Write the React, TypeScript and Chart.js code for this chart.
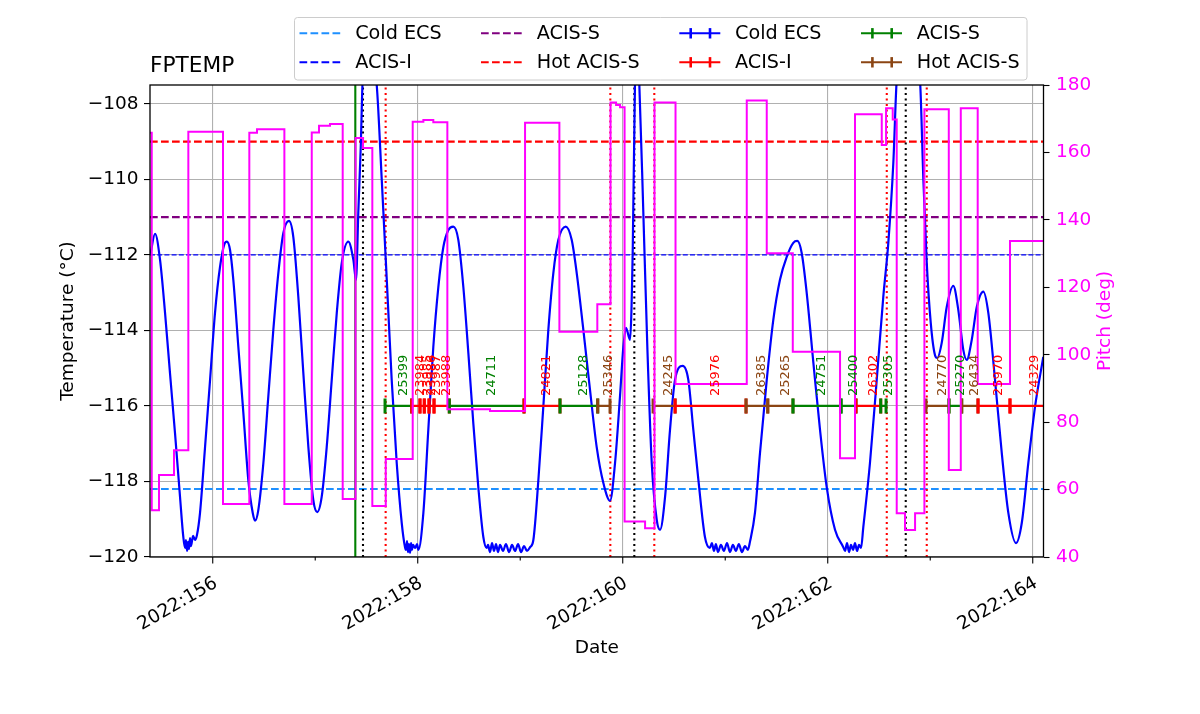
import React, { useEffect, useRef } from 'react';
import { Chart, registerables } from 'chart.js';

Chart.register(...registerables);

const FONT = '"DejaVu Sans", sans-serif';

// ---------------- data ----------------
const tempDays = [
  155.393, 155.437, 155.486, 155.535, 155.583, 155.632, 155.681, 155.713, 155.730, 155.739,
  155.749, 155.759, 155.768, 155.778, 155.788, 155.808, 155.827, 155.846, 155.876, 155.925,
  155.974, 156.022, 156.071, 156.120, 156.137, 156.169, 156.201, 156.250, 156.299, 156.347,
  156.390, 156.413, 156.445, 156.494, 156.542, 156.591, 156.640, 156.689, 156.744, 156.786,
  156.835, 156.884, 156.933, 156.981, 157.020, 157.063, 157.112, 157.161, 157.210, 157.259,
  157.323, 157.372, 157.398, 157.420, 157.444, 157.463, 157.535, 157.600, 157.649, 157.698,
  157.746, 157.795, 157.844, 157.876, 157.886, 157.896, 157.905, 157.915, 157.925, 157.935,
  157.944, 157.954, 157.974, 157.993, 158.006, 158.055, 158.103, 158.152, 158.201, 158.250,
  158.299, 158.347, 158.396, 158.445, 158.494, 158.542, 158.591, 158.640, 158.673, 158.686,
  158.705, 158.725, 158.744, 158.764, 158.783, 158.803, 158.832, 158.861, 158.891, 158.920,
  158.949, 158.979, 159.008, 159.037, 159.066, 159.096, 159.128, 159.177, 159.225, 159.274,
  159.323, 159.372, 159.444, 159.502, 159.551, 159.616, 159.681, 159.746, 159.811, 159.876,
  159.925, 159.973, 160.006, 160.032, 160.071, 160.098, 160.120, 160.139, 160.162, 160.201,
  160.240, 160.283, 160.332, 160.364, 160.413, 160.461, 160.510, 160.585, 160.640, 160.689,
  160.738, 160.802, 160.850, 160.870, 160.890, 160.909, 160.929, 160.958, 160.987, 161.017,
  161.046, 161.075, 161.104, 161.133, 161.163, 161.192, 161.221, 161.241, 161.290, 161.339,
  161.405, 161.469, 161.534, 161.600, 161.664, 161.703, 161.746, 161.795, 161.860, 161.925,
  161.990, 162.071, 162.152, 162.169, 162.188, 162.208, 162.227, 162.247, 162.266, 162.286,
  162.305, 162.325, 162.347, 162.412, 162.478, 162.542, 162.591, 162.640, 162.673, 162.783,
  162.900, 162.933, 162.966, 163.005, 163.046, 163.069, 163.112, 163.161, 163.225, 163.274,
  163.323, 163.356, 163.405, 163.454, 163.518, 163.567, 163.632, 163.698, 163.762, 163.837,
  163.893, 163.957, 164.022, 164.103,
];
const tempValues = [
  -111.97, -111.44, -112.13, -113.54, -115.13, -116.72, -118.41, -119.47, -119.76, -119.55,
  -119.84, -119.60, -119.79, -119.50, -119.71, -119.44, -119.55, -119.42, -118.83, -117.09,
  -115.31, -113.54, -112.32, -111.68, -111.65, -111.87, -112.66, -114.44, -116.19, -117.96,
  -118.83, -119.04, -118.75, -117.51, -115.76, -113.99, -112.48, -111.42, -111.10, -111.52,
  -113.11, -115.13, -117.09, -118.49, -118.81, -118.41, -117.09, -115.31, -113.54, -112.21,
  -111.65, -112.13, -112.66, -110.89, -109.14, -107.36, -106.30, -107.50, -110.01, -112.66,
  -115.31, -117.51, -119.10, -119.74, -119.81, -119.58, -119.87, -119.66, -119.89, -119.63,
  -119.81, -119.68, -119.76, -119.66, -119.81, -118.83, -116.64, -114.44, -112.85, -111.79,
  -111.34, -111.25, -111.60, -112.85, -114.60, -116.45, -118.15, -119.47, -119.76, -119.68,
  -119.87, -119.63, -119.84, -119.66, -119.87, -119.68, -119.84, -119.66, -119.87, -119.68,
  -119.84, -119.66, -119.87, -119.71, -119.84, -119.74, -119.55, -117.96, -116.03, -113.99,
  -112.48, -111.60, -111.25, -111.60, -112.48, -113.99, -115.58, -117.09, -118.04, -118.51,
  -117.51, -115.76, -114.44, -113.93, -114.25, -111.79, -107.36, -106.57, -107.50, -110.89,
  -114.44, -117.51, -119.02, -119.28, -118.41, -116.64, -115.31, -114.94, -115.31, -116.64,
  -117.96, -119.47, -119.76, -119.63, -119.84, -119.66, -119.87, -119.68, -119.84, -119.63,
  -119.87, -119.68, -119.84, -119.66, -119.87, -119.71, -119.81, -119.60, -118.83, -117.25,
  -115.31, -113.72, -112.66, -112.05, -111.68, -111.63, -111.95, -113.01, -114.86, -116.64,
  -118.15, -119.28, -119.74, -119.84, -119.63, -119.87, -119.68, -119.81, -119.63, -119.84,
  -119.68, -119.76, -119.21, -117.51, -115.31, -113.11, -111.68, -109.56, -107.36, -105.77,
  -107.36, -110.01, -112.21, -113.80, -114.65, -114.73, -114.33, -113.38, -112.82, -113.46,
  -114.52, -114.78, -114.25, -113.38, -112.97, -113.54, -115.31, -117.25, -118.83, -119.63,
  -119.10, -117.51, -116.03, -114.70,
];

// pitch (step series: each value holds until the next time)
const pitchDays = [
  155.388, 155.405, 155.476, 155.622, 155.762, 156.100, 156.357, 156.432, 156.699, 156.966,
  157.037, 157.144, 157.268, 157.393, 157.466, 157.557, 157.688, 157.951, 158.055, 158.152,
  158.289, 158.705, 159.047, 159.382, 159.752, 159.881, 159.935, 159.974, 160.018, 160.218,
  160.310, 160.515, 161.210, 161.405, 161.659, 162.120, 162.266, 162.527, 162.569, 162.634,
  162.673, 162.754, 162.852, 162.943, 163.181, 163.298, 163.463, 163.778, 164.110,
];
const pitchValues = [
  165.8, 53.9, 64.3, 71.7, 166.1, 55.7, 165.8, 166.9, 55.7, 165.9,
  167.9, 168.4, 57.2, 164.3, 161.3, 55.1, 69.1, 169.1, 169.6, 168.95,
  83.8, 83.3, 168.8, 106.8, 115.0, 174.8, 174.1, 173.4, 50.5, 48.5,
  174.8, 91.3, 175.4, 130.1, 100.9, 69.3, 171.3, 162.2, 173.1, 169.8,
  53.0, 48.0, 53.0, 172.8, 65.8, 173.1, 91.3, 133.7, 133.7,
];

// observations
const obsIds = [
  '25399', '23984', '23985', '23986', '23987', '23988', '24711', '24821', '25128', '25346',
  '24245', '25976', '26385', '25265', '24751', '25400', '26302', '25305', '24770', '25270',
  '26434', '25970', '24329',
];
const obsStart = [
  157.681, 157.941, 158.022, 158.064, 158.110, 158.159, 158.308, 159.037, 159.388, 159.756,
  160.296, 160.511, 161.203, 161.415, 161.661, 162.130, 162.276, 162.517, 162.959, 163.183,
  163.307, 163.466, 163.778,
];
const obsStop = [
  157.941, 158.022, 158.064, 158.110, 158.159, 158.308, 159.037, 159.388, 159.756, 159.876,
  160.511, 161.203, 161.415, 161.661, 162.130, 162.276, 162.517, 162.569, 163.183, 163.307,
  163.466, 163.778, 164.170,
];
const obsMode = [
  'ACIS-S', 'ACIS-I', 'ACIS-I', 'ACIS-I', 'ACIS-I', 'ACIS-I', 'ACIS-S', 'ACIS-I', 'ACIS-S', 'Hot ACIS-S',
  'Hot ACIS-S', 'ACIS-I', 'Hot ACIS-S', 'Hot ACIS-S', 'ACIS-S', 'ACIS-S', 'ACIS-I', 'ACIS-S', 'Hot ACIS-S', 'ACIS-S',
  'Hot ACIS-S', 'ACIS-I', 'ACIS-I',
];
const OBS_LEVEL = -116;

// limit lines
const limitNames = ['Cold ECS', 'ACIS-I', 'ACIS-S', 'Hot ACIS-S'];
const limitValues = [-118.2, -112.0, -111.0, -109.0];
const limitColors = ['#1e90ff', '#0000ff', '#800080', '#ff0000'];

// vertical event lines
const vlineDays = [157.391, 157.466, 157.687, 159.879, 160.113, 160.308, 162.576, 162.761, 162.966];
const vlineKinds = ['green', 'black', 'red', 'red', 'black', 'red', 'red', 'black', 'red'];

// axis ticks
const xTickDays = [156, 158, 160, 162, 164];
const xTickLabels = ['2022:156', '2022:158', '2022:160', '2022:162', '2022:164'];

// legend
const legendLabels = ['Cold ECS', 'ACIS-I', 'ACIS-S', 'Hot ACIS-S', 'Cold ECS', 'ACIS-I', 'ACIS-S', 'Hot ACIS-S'];
const legendColors = ['#1e90ff', '#0000ff', '#800080', '#ff0000', '#0000ff', '#ff0000', '#008000', '#8b4513'];
const legendDashed = [true, true, true, true, false, false, false, false];

const modeColor: Record<string, string> = {
  'Cold ECS': '#0000ff',
  'ACIS-I': '#ff0000',
  'ACIS-S': '#008000',
  'Hot ACIS-S': '#8b4513',
};

// axis limits
const X_MIN = 155.388;
const X_MAX = 164.105;
const T_MIN = -120;
const T_MAX = -107.5;
const P_MIN = 40;
const P_MAX = 180;

const fmtNum = (v: number) => (v < 0 ? '\u2212' + Math.abs(v) : String(v));

const overlayPlugin = {
  id: 'overlay',
  afterDatasetsDraw(chart: any) {
    const { ctx, scales } = chart;
    const xs = scales.x;
    const ys = scales.y;
    ctx.save();
    ctx.font = `13px ${FONT}`;
    ctx.textAlign = 'left';
    ctx.textBaseline = 'middle';
    const baseY = ys.getPixelForValue(OBS_LEVEL) - 10;
    obsIds.forEach((id, i) => {
      const mid = (obsStart[i] + obsStop[i]) / 2;
      const px = xs.getPixelForValue(mid) + 5;
      ctx.save();
      ctx.translate(px, baseY);
      ctx.rotate(-Math.PI / 2);
      ctx.fillStyle = modeColor[obsMode[i]];
      ctx.fillText(id, 0, 0);
      ctx.restore();
    });
    ctx.restore();
  },
  afterDraw(chart: any) {
    const { ctx, chartArea: ca, scales } = chart;
    const xs = scales.x;
    ctx.save();
    // frame
    ctx.strokeStyle = '#000';
    ctx.lineWidth = 1.3;
    ctx.strokeRect(ca.left, ca.top, ca.right - ca.left, ca.bottom - ca.top);

    // x ticks (major + minor)
    ctx.lineWidth = 1.1;
    xs.ticks.forEach((t: any) => {
      const px = xs.getPixelForValue(t.value);
      const major = xTickDays.includes(t.value);
      ctx.beginPath();
      ctx.moveTo(px, ca.bottom);
      ctx.lineTo(px, ca.bottom + (major ? 6.5 : 3.5));
      ctx.stroke();
    });
    // x tick labels
    ctx.fillStyle = '#000';
    ctx.font = `18.5px ${FONT}`;
    ctx.textAlign = 'right';
    ctx.textBaseline = 'alphabetic';
    xTickDays.forEach((d, i) => {
      const px = xs.getPixelForValue(d);
      ctx.save();
      ctx.translate(px + 5.8, ca.bottom + 29);
      ctx.rotate(-Math.PI / 6);
      ctx.fillText(xTickLabels[i], 0, 0);
      ctx.restore();
    });

    // axis titles
    ctx.textAlign = 'center';
    ctx.textBaseline = 'middle';
    ctx.fillText('Date', (ca.left + ca.right) / 2, 648);
    ctx.save();
    ctx.translate(68, (ca.top + ca.bottom) / 2);
    ctx.rotate(-Math.PI / 2);
    ctx.fillText('Temperature (\u00b0C)', 0, 0);
    ctx.restore();
    ctx.save();
    ctx.fillStyle = '#ff00ff';
    ctx.translate(1105, (ca.top + ca.bottom) / 2);
    ctx.rotate(-Math.PI / 2);
    ctx.fillText('Pitch (deg)', 0, 0);
    ctx.restore();

    // title
    ctx.textAlign = 'left';
    ctx.textBaseline = 'alphabetic';
    ctx.font = `21.7px ${FONT}`;
    ctx.fillText('FPTEMP', ca.left, 72);

    // legend
    const bx = 294.5, by = 17.5, bw = 732.5, bh = 62.5;
    ctx.beginPath();
    if (ctx.roundRect) ctx.roundRect(bx, by, bw, bh, 3);
    else ctx.rect(bx, by, bw, bh);
    ctx.fillStyle = 'rgba(255,255,255,0.85)';
    ctx.fill();
    ctx.strokeStyle = '#cccccc';
    ctx.lineWidth = 1;
    ctx.stroke();
    const colHandle = [299.5, 481, 679.3, 861];
    const handleLen = 41;
    const rowY = [33.3, 62.3];
    ctx.font = `19.2px ${FONT}`;
    ctx.textBaseline = 'middle';
    legendLabels.forEach((lab, k) => {
      const col = Math.floor(k / 2);
      const row = k % 2;
      const hx = colHandle[col];
      const hy = rowY[row];
      ctx.strokeStyle = legendColors[k];
      ctx.lineWidth = 2.1;
      ctx.setLineDash(legendDashed[k] ? [7.7, 3.3] : []);
      ctx.beginPath();
      ctx.moveTo(hx, hy);
      ctx.lineTo(hx + handleLen, hy);
      ctx.stroke();
      ctx.setLineDash([]);
      if (!legendDashed[k]) {
        ctx.lineWidth = 2.6;
        [11.4, 30.7].forEach((o) => {
          ctx.beginPath();
          ctx.moveTo(hx + o, hy - 5.2);
          ctx.lineTo(hx + o, hy + 5.2);
          ctx.stroke();
        });
      }
      ctx.fillStyle = '#000';
      ctx.fillText(lab, hx + 55.7, hy + 1);
    });
    ctx.restore();
  },
};

function buildDatasets() {
  const ds: any[] = [];
  // pitch on top
  ds.push({
    label: 'Pitch',
    yAxisID: 'y2',
    data: pitchDays.map((d, i) => ({ x: d, y: pitchValues[i] })),
    borderColor: '#ff00ff',
    borderWidth: 2,
    pointRadius: 0,
    stepped: 'before',
    fill: false,
    order: 0,
  });
  // temperature
  ds.push({
    label: 'FPTEMP',
    yAxisID: 'y',
    data: tempDays.map((d, i) => ({ x: d, y: tempValues[i] })),
    borderColor: '#0000ff',
    borderWidth: 2.2,
    pointRadius: 0,
    cubicInterpolationMode: 'monotone',
    fill: false,
    order: 200,
  });
  // observation segments (later ones on top)
  obsIds.forEach((id, i) => {
    const c = modeColor[obsMode[i]];
    ds.push({
      label: id,
      yAxisID: 'y',
      data: [
        { x: obsStart[i], y: OBS_LEVEL },
        { x: obsStop[i], y: OBS_LEVEL },
      ],
      borderColor: c,
      borderWidth: 2.3,
      pointStyle: 'line',
      pointRotation: 90,
      pointRadius: 7.5,
      pointHoverRadius: 7.5,
      pointBorderWidth: 3,
      pointBorderColor: c,
      pointBackgroundColor: c,
      fill: false,
      order: 100 - i,
    });
  });
  // limit lines
  limitNames.forEach((n, i) => {
    const thin = n === 'ACIS-I';
    ds.push({
      label: n,
      yAxisID: 'y',
      data: [
        { x: X_MIN, y: limitValues[i] },
        { x: X_MAX, y: limitValues[i] },
      ],
      borderColor: limitColors[i],
      borderWidth: thin ? 1.2 : 2.1,
      borderDash: thin ? [5, 2.2] : [7.7, 3.3],
      pointRadius: 0,
      fill: false,
      order: 300,
    });
  });
  // vertical lines
  vlineDays.forEach((d, i) => {
    const k = vlineKinds[i];
    ds.push({
      label: 'v' + i,
      yAxisID: 'y',
      data: [
        { x: d, y: T_MIN },
        { x: d, y: T_MAX },
      ],
      borderColor: k === 'green' ? '#008000' : k === 'black' ? '#000000' : '#ff0000',
      borderWidth: 2.1,
      borderDash: k === 'green' ? [] : [2.1, 3.4],
      pointRadius: 0,
      fill: false,
      order: 250,
    });
  });
  return ds;
}

export default function App() {
  const ref = useRef<HTMLCanvasElement>(null);
  useEffect(() => {
    const canvas = ref.current;
    if (!canvas) return;
    const chart = new Chart(canvas, {
      type: 'line',
      data: { datasets: buildDatasets() },
      plugins: [overlayPlugin],
      options: {
        responsive: false,
        animation: false,
        events: [],
        layout: { padding: { left: 0, right: 0, top: 85, bottom: 0 } },
        plugins: {
          legend: { display: false },
          title: { display: false },
          tooltip: { enabled: false },
        },
        scales: {
          x: {
            type: 'linear',
            position: 'bottom',
            min: X_MIN,
            max: X_MAX,
            afterFit: (s: any) => {
              s.height = 157;
            },
            ticks: { display: false, stepSize: 1, includeBounds: false, autoSkip: false },
            grid: {
              color: (c: any) =>
                c.tick && xTickDays.includes(c.tick.value) ? '#b0b0b0' : 'rgba(0,0,0,0)',
              lineWidth: 1.1,
              drawTicks: false,
            },
            border: { display: false },
          },
          y: {
            type: 'linear',
            position: 'left',
            min: T_MIN,
            max: T_MAX,
            afterFit: (s: any) => {
              s.width = 150;
            },
            ticks: {
              stepSize: 2,
              includeBounds: false,
              padding: 5.5,
              color: '#000',
              font: { family: FONT, size: 18.5 },
              callback: (v: any) => fmtNum(Number(v)),
            },
            grid: { color: '#b0b0b0', lineWidth: 1.1, tickLength: 6, tickColor: '#000', tickWidth: 1.1 },
            border: { display: false },
          },
          y2: {
            type: 'linear',
            position: 'right',
            min: P_MIN,
            max: P_MAX,
            afterFit: (s: any) => {
              s.width = 156.5;
            },
            ticks: {
              stepSize: 20,
              includeBounds: false,
              padding: 6.5,
              color: '#ff00ff',
              font: { family: FONT, size: 18.5 },
            },
            grid: { drawOnChartArea: false, tickLength: 6, tickColor: '#000', tickWidth: 1.1 },
            border: { display: false },
          },
        },
      } as any,
    } as any);
    return () => chart.destroy();
  }, []);
  return (
    <div style={{ position: 'fixed', left: 0, top: 0, width: 1200, height: 714, background: '#fff' }}>
      <canvas ref={ref} width={1200} height={714} style={{ display: 'block', width: 1200, height: 714 }} />
    </div>
  );
}
